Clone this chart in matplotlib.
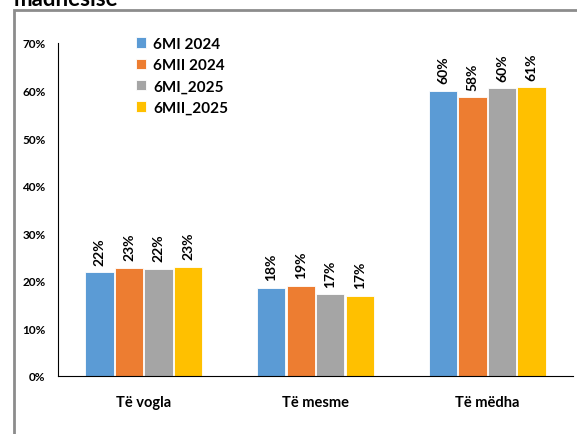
import matplotlib.pyplot as plt
import matplotlib.patches as mpatches
import numpy as np

plt.rcParams['font.family'] = ['Lato', 'DejaVu Sans']

categories = ["Të vogla", "Të mesme", "Të mëdha"]
series = ["6MI 2024", "6MII 2024", "6MI_2025", "6MII_2025"]
values = [
    [21.8, 18.5, 59.9],
    [22.7, 18.9, 58.6],
    [22.5, 17.2, 60.5],
    [22.9, 16.8, 60.7],
]
labels = [
    ["22%", "18%", "60%"],
    ["23%", "19%", "58%"],
    ["22%", "17%", "60%"],
    ["23%", "17%", "61%"],
]
colors = ["#5B9BD5", "#ED7D31", "#A5A5A5", "#FFC000"]
yticks = [0, 10, 20, 30, 40, 50, 60, 70]

fig = plt.figure(figsize=(5.77, 4.35), dpi=100)

# outer grey frame of the embedded chart (cut off on right/bottom)
fig.patches.append(mpatches.Rectangle((14 / 577, -0.1), 1.2, (435 - 11) / 435 + 0.1,
                                      transform=fig.transFigure, fill=False,
                                      edgecolor="#8c8c8c", linewidth=2))
# partially visible heading above the chart
fig.text(14 / 577, 1.0, "madhësisë", fontsize=16, fontweight="bold",
         va="center", ha="left")

ax = fig.add_axes([58 / 577, 58 / 435, 515 / 577, 333 / 435])

x = np.arange(len(categories))
width = 0.165
step = 0.172
for i, (name, vals) in enumerate(zip(series, values)):
    pos = x + (i - 1.5) * step
    bars = ax.bar(pos, vals, width, color=colors[i], edgecolor="white",
                  linewidth=0.6, label=name)
    for b, lab in zip(bars, labels[i]):
        ax.annotate(lab, (b.get_x() + b.get_width() / 2, b.get_height()),
                    xytext=(0, 5.5), textcoords="offset points",
                    rotation=90, ha="center", va="bottom",
                    fontsize=10, fontweight="bold")

ax.set_xlim(-0.5, 2.5)
ax.set_ylim(0, 70)
ax.set_yticks(yticks)
ax.set_yticklabels([f"{t}%" for t in yticks], fontsize=8.5, fontweight="bold")
ax.set_xticks(x)
ax.set_xticklabels(categories, fontsize=10.5, fontweight="bold")
ax.tick_params(axis="y", length=0, pad=9)
ax.tick_params(axis="x", length=0, pad=14)
for s in ["top", "right"]:
    ax.spines[s].set_visible(False)
ax.spines["left"].set_linewidth(0.8)
ax.spines["bottom"].set_linewidth(0.8)

ax.legend(loc="upper left", bbox_to_anchor=(0.125, 1.06), frameon=False,
          prop={"size": 11, "weight": "bold"}, handlelength=0.65,
          handleheight=0.65, handletextpad=0.45, labelspacing=0.48)

fig.savefig("out.png", dpi=100)
